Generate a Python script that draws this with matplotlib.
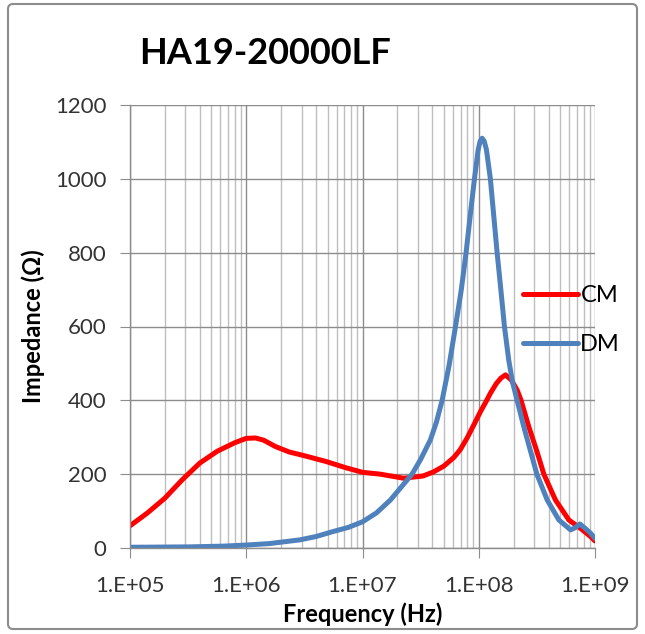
import numpy as np
import matplotlib
matplotlib.use("Agg")
import matplotlib.pyplot as plt
from matplotlib.patches import FancyBboxPatch

plt.rcParams['font.family'] = ['Lato', 'DejaVu Sans']

# datos (exponente de la frecuencia, impedancia en ohm)
cm_logf = [5.00, 5.15, 5.30, 5.45, 5.60, 5.75, 5.90, 6.00, 6.08, 6.15, 6.25, 6.37,
           6.50, 6.69, 6.85, 7.00, 7.153, 7.354, 7.52, 7.61, 7.70, 7.785, 7.84,
           7.90, 7.96, 8.014, 8.06, 8.10, 8.15, 8.19, 8.23, 8.28, 8.33, 8.364, 8.43,
           8.50, 8.56, 8.66, 8.775, 8.876, 8.962, 9.00]
cm_z = [60, 95, 135, 185, 230, 262, 285, 297, 298, 292, 275, 260,
        250, 234, 218, 205, 200, 189, 195, 206, 222, 245, 266,
        298, 335, 369, 395, 419, 445, 460, 469, 455, 428, 400, 329,
        262, 200, 130, 76, 53, 31, 19]

dm_logf = [5.00, 5.50, 5.80, 6.00, 6.20, 6.46, 6.60, 6.74, 6.88, 7.00, 7.12, 7.24,
           7.426, 7.50, 7.584, 7.635, 7.685, 7.745, 7.80, 7.85, 7.891, 7.93, 7.963,
           7.995, 8.012, 8.029, 8.047, 8.066, 8.10, 8.158, 8.19, 8.221, 8.258, 8.29,
           8.33, 8.387, 8.50, 8.589, 8.689, 8.79, 8.83, 8.87, 8.92, 8.962, 9.00]
dm_z = [2, 3, 5, 8, 12, 22, 31, 44, 56, 71, 95, 130,
        200, 240, 293, 340, 400, 495, 600, 700, 800, 910, 1000,
        1079, 1102, 1110, 1102, 1079, 1000, 800, 700, 600, 509, 450,
        400, 329, 200, 130, 76, 49, 55, 65, 52, 40, 26]

xticks = [1e5, 1e6, 1e7, 1e8, 1e9]
xtick_labels = ["1.E+05", "1.E+06", "1.E+07", "1.E+08", "1.E+09"]
yticks = [0, 200, 400, 600, 800, 1000, 1200]

fig = plt.figure(figsize=(6.45, 6.34), dpi=100)
ax = fig.add_axes([130 / 645, 1 - 548 / 634, 465 / 645, 443 / 634])

ax.plot(10 ** np.array(cm_logf), cm_z, color='#FF0000', lw=3.6, label='CM',
        solid_capstyle='round', solid_joinstyle='round')
ax.plot(10 ** np.array(dm_logf), dm_z, color='#4F81BD', lw=3.6, label='DM',
        solid_capstyle='round', solid_joinstyle='round')

ax.set_xscale('log')
ax.set_xlim(1e5, 1e9)
ax.set_ylim(0, 1200)
ax.set_xticks(xticks)
ax.set_xticklabels(xtick_labels)
ax.set_yticks(yticks)

# rejilla: mayor mas oscura, menor mas clara
ax.grid(True, which='major', color='#8C8C8C', lw=1.0)
ax.grid(True, which='minor', axis='x', color='#BEBEBE', lw=1.0)
ax.set_axisbelow(True)

for s in ['top', 'right']:
    ax.spines[s].set_visible(False)
for s in ['left', 'bottom']:
    ax.spines[s].set_color('#8C8C8C')
    ax.spines[s].set_linewidth(1.0)

ax.tick_params(axis='both', which='major', length=7, color='#8C8C8C',
               labelsize=16, labelcolor='#333333')
ax.tick_params(axis='x', which='major', pad=13)
ax.tick_params(axis='y', which='major', pad=10)
ax.tick_params(axis='x', which='minor', length=0)

ax.set_xlabel('Frequency (Hz)', fontsize=17, fontweight='bold', labelpad=5)
ax.set_ylabel('Impedance (Ω)', fontsize=17, fontweight='bold', labelpad=7)

fig.text(265 / 645, 1 - 53 / 634, 'HA19-20000LF', fontsize=26, fontweight='bold',
         ha='center', va='center')

fig.legend(loc='upper left', bbox_to_anchor=(523 / 645, 1 - 285 / 634),
           frameon=False, fontsize=17, handlelength=2.33, handletextpad=0.1,
           labelspacing=1.2, borderpad=0, borderaxespad=0)

# marco del grafico
fig.patches.append(FancyBboxPatch((8 / 645, 5 / 634), 629 / 645, 625 / 634,
                                  boxstyle='round,pad=0,rounding_size=0.008',
                                  transform=fig.transFigure, fill=False,
                                  edgecolor='#8C8C8C', lw=1.5))

fig.savefig('out.png', dpi=100)
